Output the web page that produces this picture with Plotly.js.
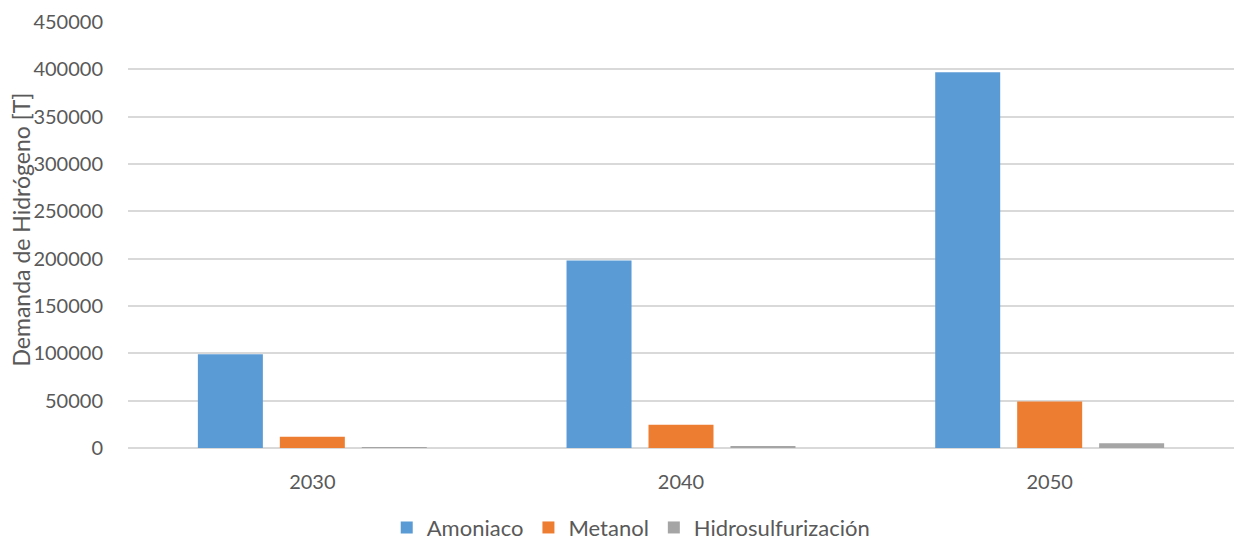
<!DOCTYPE html>
<html>
<head>
<meta charset="utf-8">
<script src="https://cdn.plot.ly/plotly-3.0.1.min.js"></script>
<style>
  html, body { margin: 0; padding: 0; background: #ffffff; }
  #chart { width: 1240px; height: 540px; }
</style>
</head>
<body>
<div id="chart"></div>
<script>
// Hydrogen demand by end use, per milestone year (tonnes)
const years = ["2030", "2040", "2050"];
const amoniaco = [99000, 198000, 397000];
const metanol = [12000, 24500, 49000];
const hidrosulfurizacion = [1000, 2000, 5000];
const seriesNames = ["Amoniaco", "Metanol", "Hidrosulfurización"];
const yTicks = [0, 50000, 100000, 150000, 200000, 250000, 300000, 350000, 400000, 450000];

const fontFamily = "Lato, 'Open Sans', sans-serif";
const textColor = "#595959";

const traces = [
  { name: seriesNames[0], y: amoniaco, color: "#5B9BD5" },
  { name: seriesNames[1], y: metanol, color: "#ED7D31" },
  { name: seriesNames[2], y: hidrosulfurizacion, color: "#A5A5A5" }
].map(s => ({
  type: "bar",
  x: years,
  y: s.y,
  name: s.name,
  marker: { color: s.color },
  hoverinfo: "x+y+name"
}));

const layout = {
  width: 1240,
  height: 540,
  margin: { l: 128, r: 6, t: 22, b: 92, autoexpand: false },
  paper_bgcolor: "#ffffff",
  plot_bgcolor: "#ffffff",
  font: { family: fontFamily, size: 20, color: textColor },
  barmode: "group",
  bargap: 0.333,
  bargroupgap: 0.207,
  showlegend: true,
  legend: {
    orientation: "h",
    x: 0.455,
    xanchor: "center",
    y: -0.187,
    yanchor: "middle",
    font: { family: fontFamily, size: 22, color: textColor },
    itemwidth: 30,
    traceorder: "normal"
  },
  xaxis: {
    type: "category",
    showgrid: false,
    showline: false,
    zeroline: false,
    ticks: "",
    ticklabelstandoff: 20,
    tickfont: { family: fontFamily, size: 20, color: textColor }
  },
  yaxis: {
    range: [0, 450000],
    tickvals: yTicks,
    ticktext: yTicks.map(v => String(v)),
    showgrid: true,
    gridcolor: "#d9d9d9",
    gridwidth: 1.8,
    zeroline: true,
    zerolinecolor: "#d9d9d9",
    zerolinewidth: 1.8,
    showline: false,
    ticks: "",
    ticklabelstandoff: 24,
    tickfont: { family: fontFamily, size: 20, color: textColor }
  },
  annotations: [{
    text: "Demanda de Hidrógeno [T]",
    textangle: -90,
    xref: "paper",
    yref: "paper",
    x: (21 - 128) / 1106,
    y: 0.513,
    xanchor: "center",
    yanchor: "middle",
    showarrow: false,
    font: { family: fontFamily, size: 23, color: textColor }
  }]
};

Plotly.newPlot("chart", traces, layout, { displayModeBar: false, staticPlot: true });
</script>
</body>
</html>
